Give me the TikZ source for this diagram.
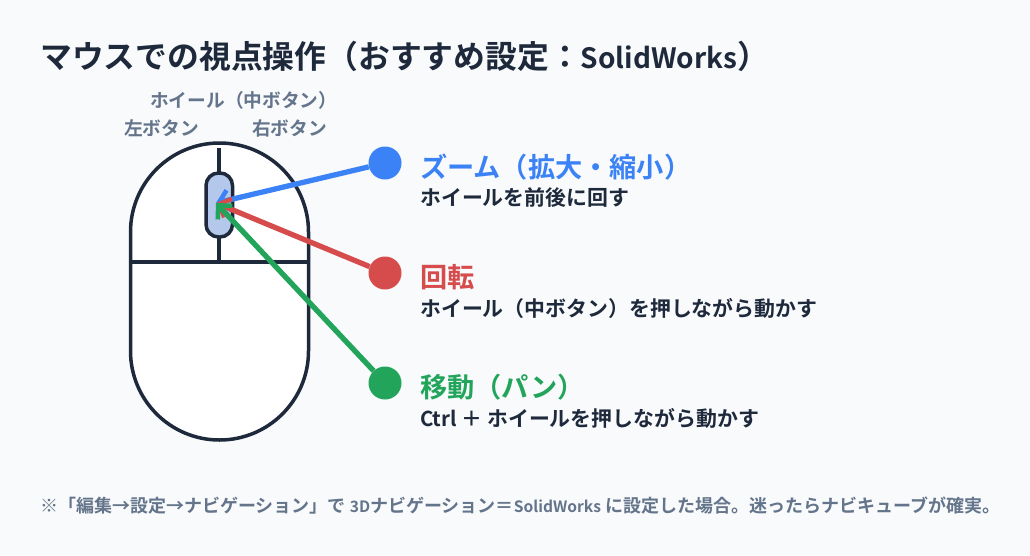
\documentclass[tikz,border=0pt]{standalone}
\usepackage{fontspec}
\setmainfont{Noto Sans CJK JP}[BoldFont={* Bold}]
\usetikzlibrary{arrows.meta}
\definecolor{pagebg}{HTML}{F8FAFC}
\definecolor{ink}{HTML}{1E293B}
\definecolor{muted}{HTML}{64748B}
\definecolor{wheelfill}{HTML}{B3C8EA}
\definecolor{zoomc}{HTML}{3B82F6}
\definecolor{rotc}{HTML}{D64B4B}
\definecolor{panc}{HTML}{22A55B}
% Latin runs are set a little smaller than the kana and kanji around them
\newcommand{\latsize}[2]{{\fontsize{#1}{#1}\selectfont #2}}
\tikzset{
  txt/.style={inner sep=0pt,anchor=west},
  title/.style={txt,text=ink,font=\bfseries\fontsize{31.8}{36}\selectfont},
  btnlabel/.style={txt,text=muted,font=\bfseries\fontsize{18.7}{21}\selectfont},
  headc/.style={txt,font=\bfseries\fontsize{27.2}{30}\selectfont},
  desc/.style={txt,text=ink,font=\bfseries\fontsize{20.9}{24}\selectfont},
  foot/.style={txt,text=muted,font=\bfseries\fontsize{18}{20}\selectfont},
  part/.style={draw=ink,line width=3.5pt},
  dot/.style={circle,inner sep=0pt,minimum size=33pt},
  link/.style={line width=5.3pt,-{Straight Barb[length=10pt,width=20pt,line width=4.5pt]}},
}
\begin{document}
\begin{tikzpicture}[x=1pt,y=-1pt]
\useasboundingbox[fill=pagebg] (0,0) rectangle (1030,555);
\node[title] (ttl) at (40,56) {マウスでの視点操作（おすすめ設定：\latsize{28}{SolidWorks}）};
\node[btnlabel] (lwheel) at (150,100) {ホイール（中ボタン）};
\node[btnlabel] (lleft) at (124,128) {左ボタン};
\node[btnlabel] (lright) at (252,128) {右ボタン};
% mouse body and its seams
\draw[part,fill=white] (130.5,232) arc[start angle=180,end angle=360,radius=89] -- (308.5,351) arc[start angle=0,end angle=180,radius=89] -- cycle;
\draw[part] (130.5,262) -- (308.5,262);
\draw[part] (219,148) -- (219,262);
\draw[part,fill=wheelfill,rounded corners=12.5pt] (206,173) rectangle (232.5,237);
\coordinate (tip) at (216,203);
\node[dot,fill=zoomc] (dz) at (385,163) {};
\node[dot,fill=rotc] (dr) at (385,273) {};
\node[dot,fill=panc] (dp) at (385,383) {};
\draw[link,draw=zoomc] (dz) -- (tip);
\draw[link,draw=rotc] (dr) -- (tip);
\draw[link,draw=panc] (dp) -- (tip);
\node[headc,text=zoomc] (hz) at (420,167) {ズーム（拡大・縮小）};
\node[desc] (tz) at (420,198) {ホイールを前後に回す};
\node[headc,text=rotc] (hr) at (420,277) {回転};
\node[desc] (tr) at (420,308) {ホイール（中ボタン）を押しながら動かす};
\node[headc,text=panc] (hp) at (420,387) {移動（パン）};
\node[desc] (tp) at (420,418) {\latsize{20.5}{Ctrl} ＋ ホイールを押しながら動かす};
\node[foot] (fn) at (40,506) {※「編集→設定→ナビゲーション」で \latsize{15.6}{3D}ナビゲーション＝\latsize{15.6}{SolidWorks} に設定した場合。迷ったらナビキューブが確実。};
\end{tikzpicture}
\end{document}
